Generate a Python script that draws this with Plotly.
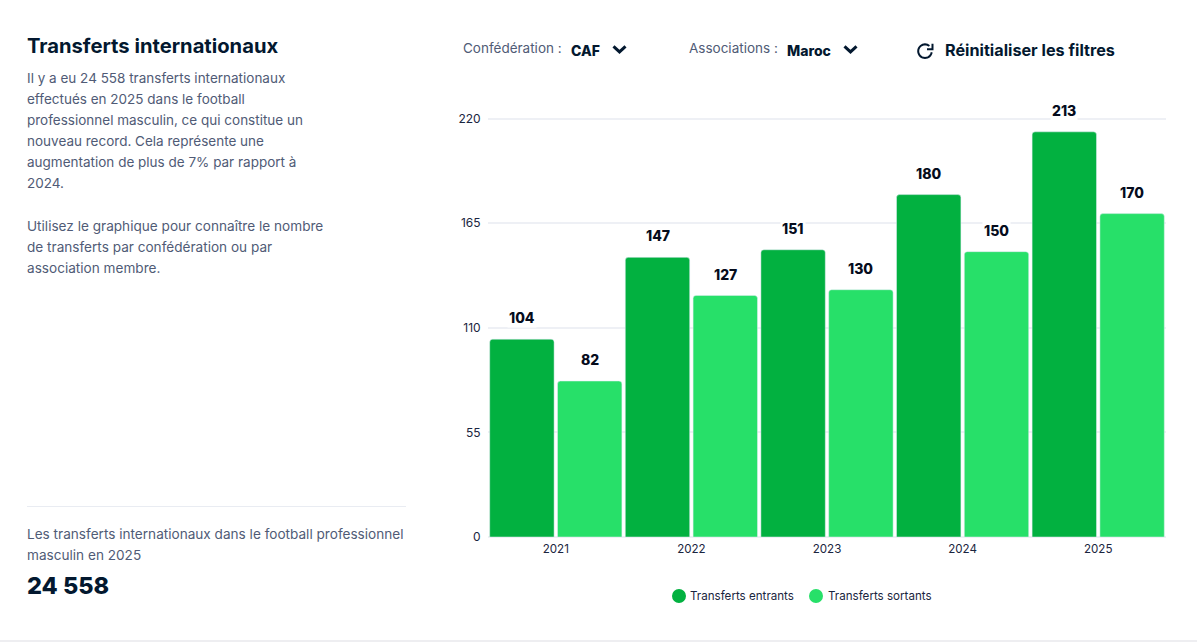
import math

import plotly.graph_objects as go

WIDTH = 1197
HEIGHT = 642

YEARS = ["2021", "2022", "2023", "2024", "2025"]
ENTRANTS = [104, 147, 151, 180, 213]
SORTANTS = [82, 127, 130, 150, 170]
Y_TICKS = [0, 55, 110, 165, 220]

INTRO_LINES = [
    "Il y a eu 24 558 transferts internationaux",
    "effectués en 2025 dans le football",
    "professionnel masculin, ce qui constitue un",
    "nouveau record. Cela représente une",
    "augmentation de plus de 7% par rapport à",
    "2024.",
]
HELP_LINES = [
    "Utilisez le graphique pour connaître le nombre",
    "de transferts par confédération ou par",
    "association membre.",
]
TOTAL_LINES = [
    "Les transferts internationaux dans le football professionnel",
    "masculin en 2025",
]

DARK = "#02b140"
LIGHT = "#27e069"
NAVY = "#03182f"
GREY = "#505b76"
INK = "#1a2540"
RULE = "#e9ecf2"
GRID = "#eef0f5"
FONT = "Inter, Arial, sans-serif"

# y range runs a little past 220 so the top gridline is still drawn
PLOT_L, PLOT_R, PLOT_T, PLOT_B = 488, 1166, 109.3, 537
Y_MAX = 225


def paper_x(x):
    return (x - PLOT_L) / (PLOT_R - PLOT_L)


def paper_y(y):
    return (PLOT_B - y) / (PLOT_B - PLOT_T)


def add_text(fig, x, y, text, size, color, weight=400):
    fig.add_annotation(
        x=paper_x(x - 1),
        y=paper_y(y),
        xref="paper",
        yref="paper",
        text=text,
        showarrow=False,
        xanchor="left",
        yanchor="middle",
        borderpad=0,
        font={"family": FONT, "size": size, "color": color, "weight": weight},
    )


def add_path(fig, points, color, width):
    path = "M " + " L ".join(f"{paper_x(x):.5f},{paper_y(y):.5f}" for x, y in points)
    fig.add_shape(
        type="path",
        path=path,
        xref="paper",
        yref="paper",
        line={"color": color, "width": width},
    )


def add_rule(fig, x0, x1, y, color=RULE, width=1):
    fig.add_shape(
        type="line",
        x0=paper_x(x0),
        x1=paper_x(x1),
        y0=paper_y(y),
        y1=paper_y(y),
        xref="paper",
        yref="paper",
        line={"color": color, "width": width},
    )


def add_chevron(fig, x, y):
    add_path(fig, [(x - 6, y - 2.8), (x, y + 2.8), (x + 6, y - 2.8)], NAVY, 3)


def add_dot(fig, x, y, color):
    fig.add_shape(
        type="circle",
        x0=paper_x(x - 7),
        x1=paper_x(x + 7),
        y0=paper_y(y - 7),
        y1=paper_y(y + 7),
        xref="paper",
        yref="paper",
        fillcolor=color,
        line={"width": 0},
    )


fig = go.Figure()
positions = list(range(len(YEARS)))
fig.add_bar(x=positions, y=ENTRANTS, name="Transferts entrants", marker={"color": DARK, "cornerradius": 3})
fig.add_bar(x=positions, y=SORTANTS, name="Transferts sortants", marker={"color": LIGHT, "cornerradius": 3})

# value labels sit over the bars, white box cuts the gridline like the original
for i in positions:
    for value, offset in ((ENTRANTS[i], -0.25), (SORTANTS[i], 0.25)):
        fig.add_annotation(
            x=i + offset,
            y=value,
            text=str(value),
            showarrow=False,
            yshift=21.4,
            yanchor="middle",
            bgcolor="#ffffff",
            borderpad=1,
            font={"family": FONT, "size": 14, "color": "#050c1c", "weight": 800},
        )

add_text(fig, 27, 45.6, "Transferts internationaux", 20.2, NAVY, 700)
for i, line in enumerate(INTRO_LINES):
    add_text(fig, 27, 78.6 + i * 21, line, 13.5, GREY)
for i, line in enumerate(HELP_LINES):
    add_text(fig, 27, 226 + i * 21, line, 13.6, GREY)
add_rule(fig, 27, 406, 506.5)
for i, line in enumerate(TOTAL_LINES):
    add_text(fig, 27, 534 + i * 21, line, 13.6, GREY)
add_text(fig, 27, 585.4, "24 558", 23.5, NAVY, 800)

add_text(fig, 463, 48, "Confédération :", 13.5, GREY)
add_text(fig, 571, 50.6, "CAF", 14, NAVY, 800)
add_chevron(fig, 619.5, 49.5)
add_text(fig, 689, 48, "Associations :", 13.5, GREY)
add_text(fig, 787, 50.6, "Maroc", 14, NAVY, 800)
add_chevron(fig, 850.5, 49.5)

# reset icon: open ring plus arrow head
ring = []
for step in range(0, 31):
    angle = math.radians(-50 - step * 10)
    ring.append((925 + 6.8 * math.cos(angle), 51.5 + 6.8 * math.sin(angle)))
add_path(fig, ring, NAVY, 2)
add_path(fig, [(932.5, 44), (932.5, 49.5), (927, 49.5)], NAVY, 2)
add_text(fig, 945, 50.6, "Réinitialiser les filtres", 16.2, NAVY, 700)

add_dot(fig, 679, 596, DARK)
add_text(fig, 690, 595.6, "Transferts entrants", 11.6, INK)
add_dot(fig, 816, 596, LIGHT)
add_text(fig, 828, 595.6, "Transferts sortants", 11.6, INK)

add_rule(fig, 0, WIDTH, 641, "#e8e9ec", 1.5)

fig.update_layout(
    width=WIDTH,
    height=HEIGHT,
    autosize=False,
    barmode="group",
    bargap=0,
    bargroupgap=0.05,
    showlegend=False,
    paper_bgcolor="#ffffff",
    plot_bgcolor="#ffffff",
    margin={"l": PLOT_L, "r": WIDTH - PLOT_R, "t": PLOT_T, "b": HEIGHT - PLOT_B, "pad": 0},
    font={"family": FONT, "size": 12, "color": INK},
    xaxis={
        "range": [-0.5, 4.5],
        "tickmode": "array",
        "tickvals": positions,
        "ticktext": YEARS,
        "ticks": "outside",
        "ticklen": 1,
        "tickcolor": "rgba(0,0,0,0)",
        "showgrid": False,
        "zeroline": False,
        "showline": False,
        "tickfont": {"size": 11.6, "color": INK},
    },
    yaxis={
        "range": [0, Y_MAX],
        "tickmode": "array",
        "tickvals": Y_TICKS,
        "ticks": "outside",
        "ticklen": 4,
        "tickcolor": "rgba(0,0,0,0)",
        "showgrid": True,
        "gridcolor": GRID,
        "gridwidth": 1.5,
        "zeroline": True,
        "zerolinecolor": GRID,
        "zerolinewidth": 1.5,
        "tickfont": {"size": 12, "color": INK},
    },
)

fig.write_html("out.html", post_script="document.body.style.margin='0';", config={"displayModeBar": False})
